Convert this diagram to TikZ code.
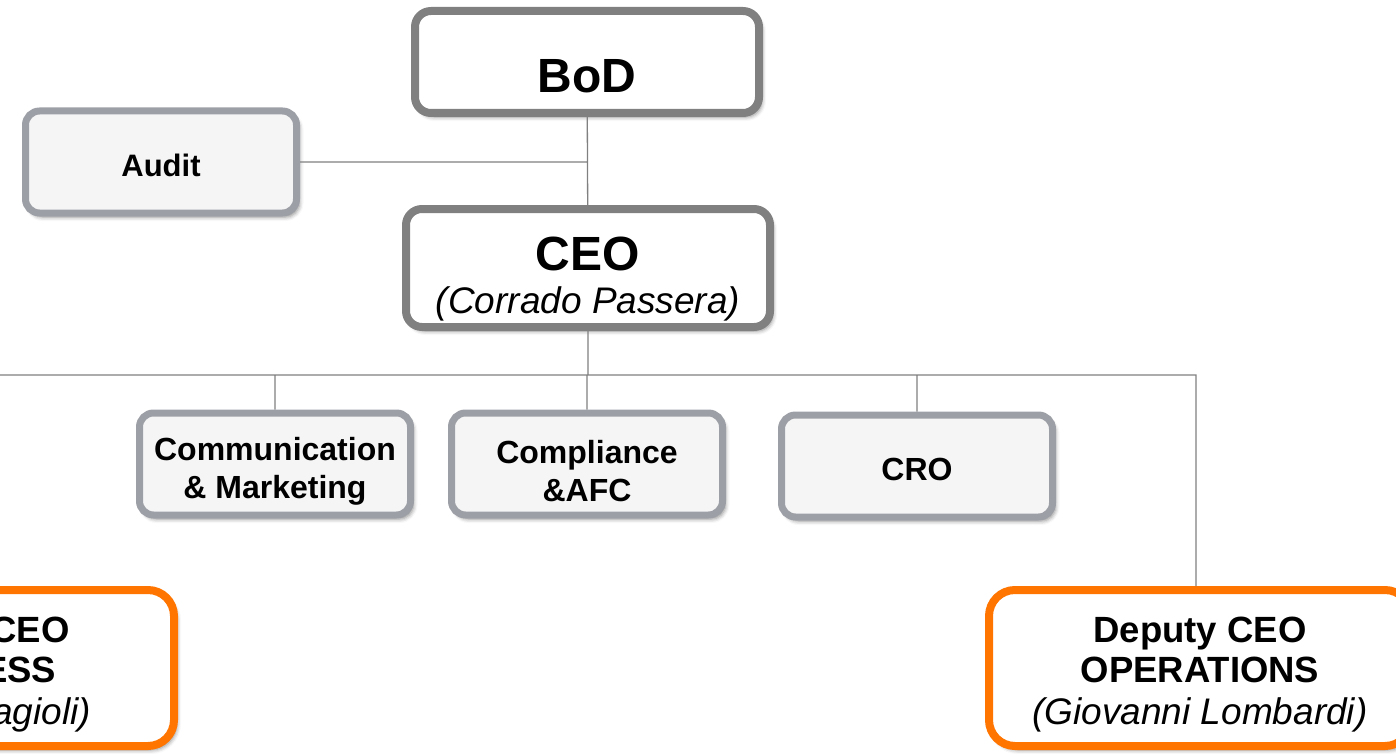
\documentclass[tikz,border=0pt]{standalone}
\usepackage{fontspec}
\setmainfont{Liberation Sans}
\usetikzlibrary{positioning,shadows.blur}

\definecolor{headgray}{RGB}{128,128,128}
\definecolor{unitgray}{RGB}{156,159,166}
\definecolor{unitfill}{RGB}{245,245,245}
\definecolor{deputyorange}{RGB}{255,117,0}

\tikzset{
  softshadow/.style={blur shadow={shadow xshift=3pt,shadow yshift=-4pt,shadow blur radius=4pt,shadow opacity=45}},
  lowered/.style={execute at begin node={\rule{0pt}{#1}}},
  headbox/.style={draw=headgray,line width=8pt,fill=white,rounded corners=16pt,softshadow,
    align=center,font=\bfseries\fontsize{48}{43}\selectfont},
  unitbox/.style={draw=unitgray,line width=7pt,fill=unitfill,rounded corners=14pt,softshadow,
    align=center,font=\bfseries\fontsize{32}{38}\selectfont,
    minimum width=271pt,minimum height=102pt,lowered=29pt},
  deputybox/.style={draw=deputyorange,line width=8pt,fill=white,rounded corners=26pt,softshadow,
    align=center,font=\bfseries\fontsize{36.5}{40}\selectfont,
    minimum width=422pt,minimum height=156pt,lowered=121pt},
  link/.style={draw=headgray,line width=1.3pt}
}

\begin{document}
\begin{tikzpicture}[x=1pt,y=-1pt]
  \useasboundingbox (0,0) rectangle (1396,754);
  \clip (0,0) rectangle (1396,754);

  % board and CEO
  \node[headbox,minimum width=344pt,minimum height=102pt,lowered=61pt] (bod) at (587,62) {BoD};
  \node[headbox,minimum width=364pt,minimum height=118pt,lowered=98pt] (ceo) at (588,268)
       {CEO\\{\mdseries\itshape\fontsize{37}{40}\selectfont(Corrado Passera)}};
  \node[unitbox,font=\bfseries\fontsize{31}{38}\selectfont] (audit) at (161,162) {Audit};

  % staff units
  \node[unitbox,lowered=75pt] (comm) at (275,464) {Communication\\\& Marketing};
  \node[unitbox,lowered=75pt] (compl) at (587,464) {Compliance\\\&AFC};
  \node[unitbox] (cro) at (917,466) {CRO};

  % deputies
  \node[deputybox] (bizdep) at (-37,668)
       {Deputy CEO\\BUSINESS\\[2pt]{\mdseries\itshape\fontsize{37}{40}\selectfont\makebox[256pt][r]{agioli)}}};
  \node[deputybox] (opsdep) at (1200,668)
       {Deputy CEO\\OPERATIONS\\[2pt]{\mdseries\itshape\fontsize{37}{40}\selectfont(Giovanni Lombardi)}};

  \coordinate (bus) at ([yshift=-44pt]ceo.south);

  \path[link] (bod) -- (ceo)
              (audit.east) -- (audit.east -| bod.south)
              (ceo.south) -- (bus)
              (bizdep.north) |- (bus) -| ([xshift=-4pt]opsdep.north)
              (comm.north) -- (comm.north |- bus)
              (compl.north) -- (compl.north |- bus)
              (cro.north) -- (cro.north |- bus);
\end{tikzpicture}
\end{document}
